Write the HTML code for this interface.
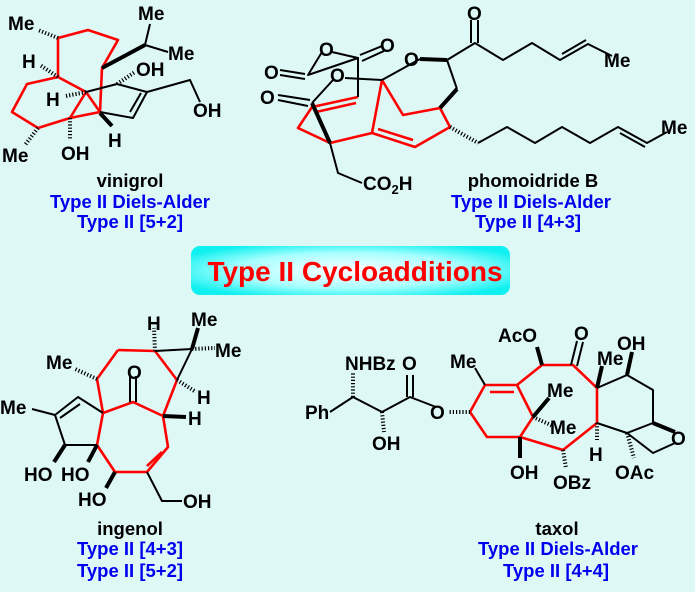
<!DOCTYPE html>
<html><head><meta charset="utf-8"><style>
html,body{margin:0;padding:0;background:#def8f6;}
svg{display:block}
text{font-family:"Liberation Sans",sans-serif;font-weight:bold;}
.k{stroke:#000;stroke-width:2;fill:none;stroke-linejoin:round}
.r{stroke:#f00;stroke-width:2.6;fill:none;stroke-linejoin:round}
.w{stroke:#000;stroke-width:4;fill:none}
.h{stroke:#000;stroke-width:4;stroke-dasharray:1.2 2;fill:none}
.a{font-size:19px;fill:#000}
.n{font-size:18.5px;fill:#000;text-anchor:middle}
.b{font-size:18.5px;fill:#0000ee;text-anchor:middle}
</style></head><body>
<svg width="695" height="592" viewBox="0 0 695 592" xmlns="http://www.w3.org/2000/svg">
<defs><radialGradient id="g" cx="50%" cy="50%" r="60%"><stop offset="0" stop-color="#ffffff"/><stop offset="0.6" stop-color="#a8ffff"/><stop offset="1" stop-color="#10f0f0"/></radialGradient></defs>
<rect x="191" y="246" width="319" height="49" rx="9" fill="url(#g)"/>
<text x="355" y="281" font-size="28" fill="#f00" text-anchor="middle">Type II Cycloadditions</text>

<!-- vinigrol -->
<polyline class="r" points="58,77 58,38 88,30 118,40 102,68 100,112 70,118 38,128 12,112 27,84 58,77 86,92 70,118"/>
<line class="r" x1="86" y1="92" x2="100" y2="112"/>
<polyline class="k" points="86,92 117,84 147,92 133,118 100,112"/>
<line class="k" x1="141" y1="93" x2="130" y2="112"/>
<polyline class="k" points="147,92 190,80 200,102"/>
<line class="w" x1="102" y1="68" x2="145" y2="45"/>
<line class="k" x1="145" y1="45" x2="150" y2="24"/><line class="k" x1="145" y1="45" x2="168" y2="52"/>
<line class="h" x1="117" y1="84" x2="135" y2="72"/>
<line class="w" x1="100" y1="113" x2="112" y2="126"/>
<line class="h" x1="70" y1="118" x2="70" y2="140"/>
<line class="h" x1="38" y1="128" x2="25" y2="145"/>
<line class="h" x1="86" y1="92" x2="66" y2="96"/>
<line class="h" x1="58" y1="77" x2="40" y2="65"/>
<line class="h" x1="58" y1="38" x2="38" y2="30"/>
<text class="a" x="8" y="30">Me</text>
<text class="a" x="138" y="20">Me</text>
<text class="a" x="168" y="60">Me</text>
<text class="a" x="136" y="76">OH</text>
<text class="a" x="193" y="117">OH</text>
<text class="a" x="22" y="68">H</text>
<text class="a" x="46" y="106">H</text>
<text class="a" x="108" y="147">H</text>
<text class="a" x="61" y="160">OH</text>
<text class="a" x="2" y="162">Me</text>
<text class="n" x="130" y="187">vinigrol</text>
<text class="b" x="130" y="208">Type II Diels-Alder</text>
<text class="b" x="130" y="228">Type II [5+2]</text>

<!-- phomoidride B -->
<polyline class="r" points="440,108 403,115 382,80 372,133 330,143 298,128 312,107 358,97"/>
<line class="r" x1="316" y1="112" x2="356" y2="103"/>
<polyline class="r" points="440,108 450,127 415,147 372,133"/>
<line class="r" x1="413" y1="140" x2="378" y2="129"/>
<line class="k" x1="420" y1="59" x2="382" y2="80"/>
<line class="w" x1="420" y1="59" x2="447" y2="60"/>
<polyline class="k" points="447,60 475,43 503,60 532,43 560,60 588,44 612,56"/>
<line class="k" x1="471" y1="43" x2="471" y2="20"/><line class="k" x1="478" y1="43" x2="478" y2="20"/>
<line class="k" x1="562" y1="54" x2="586" y2="40"/>
<line class="k" x1="447" y1="60" x2="457" y2="89"/>
<line class="w" x1="457" y1="89" x2="440" y2="108"/>
<polyline class="k" points="322,52 308,75 358,58 358,97"/>
<line class="k" x1="332" y1="52" x2="358" y2="58"/>
<line class="k" x1="305" y1="74" x2="280" y2="70"/><line class="k" x1="305" y1="79" x2="280" y2="75"/>
<line class="k" x1="360" y1="55" x2="382" y2="46"/><line class="k" x1="362" y1="61" x2="384" y2="51"/>
<line class="k" x1="345" y1="78" x2="382" y2="80"/>
<line class="k" x1="333" y1="80" x2="312" y2="103"/>
<line class="k" x1="310" y1="100" x2="278" y2="95"/><line class="k" x1="308" y1="106" x2="278" y2="100"/>
<line class="w" x1="312" y1="103" x2="330" y2="143"/>
<polyline class="k" points="330,143 338,173 362,183"/>
<line class="h" x1="450" y1="127" x2="478" y2="143"/>
<polyline class="k" points="478,143 507,127 535,143 562,127 590,143 618,127 647,143 667,132"/>
<line class="k" x1="620" y1="133" x2="645" y2="147"/>
<text class="a" x="467" y="20">O</text>
<text class="a" x="604" y="67">Me</text>
<text class="a" x="404" y="66">O</text>
<text class="a" x="380" y="52">O</text>
<text class="a" x="319" y="56">O</text>
<text class="a" x="264" y="79">O</text>
<text class="a" x="330" y="82">O</text>
<text class="a" x="260" y="104">O</text>
<text class="a" x="661" y="134">Me</text>
<text class="a" x="363" y="190">CO<tspan font-size="13" dy="4">2</tspan><tspan dy="-4">H</tspan></text>
<text class="n" x="533" y="187">phomoidride B</text>
<text class="b" x="531" y="208">Type II Diels-Alder</text>
<text class="b" x="528" y="228">Type II [4+3]</text>

<!-- ingenol -->
<polyline class="r" points="118,350 155,351 177,380 163,416 168,447 147,472 115,472 97,445 103,413 97,379 118,350"/>
<line class="r" x1="162" y1="452" x2="147" y2="466"/>
<polyline class="r" points="103,413 133,402 163,416"/>
<line class="k" x1="130" y1="402" x2="130" y2="376"/><line class="k" x1="136" y1="402" x2="136" y2="376"/>
<polyline class="k" points="155,351 192,349 177,380"/>
<line class="h" x1="155" y1="351" x2="154" y2="328"/>
<line class="w" x1="192" y1="349" x2="198" y2="328"/>
<line class="h" x1="192" y1="349" x2="215" y2="348"/>
<line class="h" x1="177" y1="380" x2="196" y2="392"/>
<line class="w" x1="163" y1="416" x2="186" y2="417"/>
<line class="h" x1="97" y1="379" x2="75" y2="369"/>
<polyline class="k" points="103,413 78,397 55,415 65,445 97,445"/>
<line class="k" x1="80" y1="404" x2="60" y2="418"/>
<line class="k" x1="55" y1="415" x2="32" y2="409"/>
<line class="w" x1="65" y1="445" x2="54" y2="462"/>
<line class="w" x1="97" y1="445" x2="88" y2="462"/>
<line class="w" x1="115" y1="472" x2="106" y2="488"/>
<polyline class="k" points="147,472 162,501 182,501"/>
<text class="a" x="147" y="330">H</text>
<text class="a" x="191" y="326">Me</text>
<text class="a" x="215" y="357">Me</text>
<text class="a" x="197" y="404">H</text>
<text class="a" x="188" y="425">H</text>
<text class="a" x="127" y="379">O</text>
<text class="a" x="46" y="369">Me</text>
<text class="a" x="0" y="414">Me</text>
<text class="a" x="24" y="481">HO</text>
<text class="a" x="61" y="481">HO</text>
<text class="a" x="78" y="506">HO</text>
<text class="a" x="183" y="508">OH</text>
<text class="n" x="130" y="535">ingenol</text>
<text class="b" x="130" y="555">Type II [4+3]</text>
<text class="b" x="130" y="577">Type II [5+2]</text>

<!-- taxol -->
<polyline class="r" points="517,385 485,385 470,412 487,437 520,437 533,417 517,385 542,365 573,365 597,388 597,423 563,450 520,437"/>
<line class="r" x1="490" y1="392" x2="514" y2="392"/>
<line class="k" x1="485" y1="385" x2="475" y2="368"/>
<line class="w" x1="542" y1="365" x2="537" y2="347"/>
<line class="k" x1="571" y1="365" x2="577" y2="341"/><line class="k" x1="577" y1="366" x2="583" y2="342"/>
<line class="w" x1="597" y1="388" x2="602" y2="366"/>
<polyline class="k" points="597,388 627,375 653,390 653,423 627,433 597,423"/>
<line class="w" x1="627" y1="375" x2="632" y2="352"/>
<line class="w" x1="653" y1="423" x2="675" y2="432"/>
<polyline class="k" points="627,433 653,453 675,443"/>
<line class="h" x1="627" y1="433" x2="634" y2="458"/>
<line class="h" x1="597" y1="423" x2="597" y2="440"/>
<line class="h" x1="563" y1="450" x2="566" y2="468"/>
<line class="w" x1="520" y1="437" x2="520" y2="458"/>
<line class="w" x1="533" y1="417" x2="549" y2="398"/>
<line class="h" x1="533" y1="417" x2="553" y2="426"/>
<line class="h" x1="470" y1="412" x2="448" y2="412"/>
<polyline class="k" points="436,407 410,397 382,412 353,397 330,412"/>
<line class="k" x1="407" y1="397" x2="407" y2="375"/><line class="k" x1="413" y1="397" x2="413" y2="375"/>
<line class="h" x1="353" y1="397" x2="353" y2="372"/>
<line class="h" x1="382" y1="412" x2="384" y2="432"/>
<text class="a" x="498" y="342">AcO</text>
<text class="a" x="574" y="340">O</text>
<text class="a" x="597" y="365">Me</text>
<text class="a" x="617" y="350">OH</text>
<text class="a" x="450" y="368">Me</text>
<text class="a" x="547" y="397">Me</text>
<text class="a" x="550" y="434">Me</text>
<text class="a" x="671" y="445">O</text>
<text class="a" x="589" y="461">H</text>
<text class="a" x="615" y="479">OAc</text>
<text class="a" x="553" y="489">OBz</text>
<text class="a" x="510" y="479">OH</text>
<text class="a" x="430" y="419">O</text>
<text class="a" x="345" y="370">NHBz</text>
<text class="a" x="402" y="370">O</text>
<text class="a" x="305" y="419">Ph</text>
<text class="a" x="372" y="450">OH</text>
<text class="n" x="557" y="535">taxol</text>
<text class="b" x="558" y="555">Type II Diels-Alder</text>
<text class="b" x="556" y="577">Type II [4+4]</text>
</svg>
</body></html>
